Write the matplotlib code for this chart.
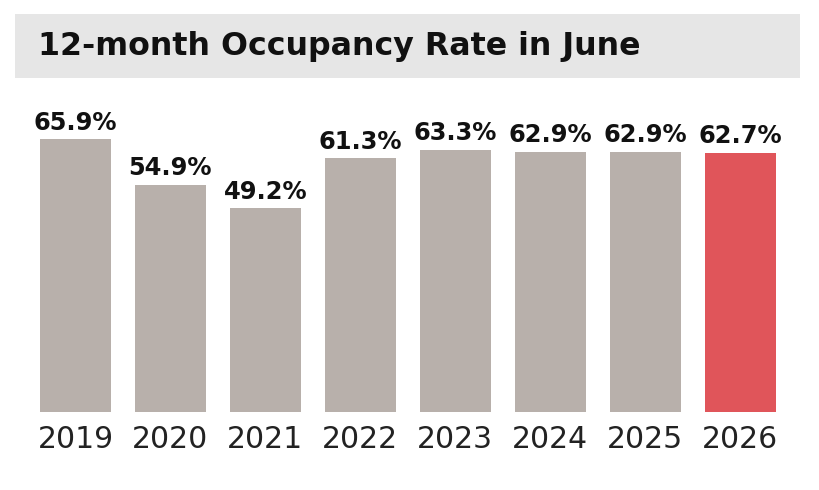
import matplotlib
matplotlib.use('Agg')
import matplotlib.pyplot as plt
from matplotlib.patches import Rectangle

years = ['2019', '2020', '2021', '2022', '2023', '2024', '2025', '2026']
occupancy = [65.9, 54.9, 49.2, 61.3, 63.3, 62.9, 62.9, 62.7]
labels = ['65.9%', '54.9%', '49.2%', '61.3%', '63.3%', '62.9%', '62.9%', '62.7%']

W, H = 820, 490
fig = plt.figure(figsize=(W / 100, H / 100), dpi=100)
fig.patch.set_facecolor('white')

# title band
fig.patches.append(Rectangle((15 / W, 1 - 78 / H), 785 / W, 64 / H,
                             transform=fig.transFigure, facecolor='#e6e6e6',
                             edgecolor='none', zorder=0))
fig.text(38 / W, 1 - 47 / H, '12-month Occupancy Rate in June', fontsize=22.8,
         fontweight='bold', family='DejaVu Sans', color='#111111', va='center', ha='left')

ax = fig.add_axes([28 / W, 78 / H, 759.6 / W, 312 / H])
colors = ['#b8b0ab'] * (len(years) - 1) + ['#e0555a']
x = range(len(years))
ax.bar(x, occupancy, width=0.75, color=colors)
for i, v in enumerate(occupancy):
    ax.annotate(labels[i], (i, v), xytext=(0, 7), textcoords='offset points',
                ha='center', va='baseline', fontsize=17.4, fontweight='bold',
                family='DejaVu Sans', color='#111111')

ax.set_xlim(-0.5, len(years) - 0.5)
ax.set_ylim(0, 75.4)
ax.set_xticks(list(x))
ax.set_xticklabels(years, fontsize=21.5, family='DejaVu Sans', color='#222222')
ax.tick_params(axis='x', length=0, pad=9)
ax.set_yticks([])
for s in ax.spines.values():
    s.set_visible(False)

fig.savefig('out.png', dpi=100)
